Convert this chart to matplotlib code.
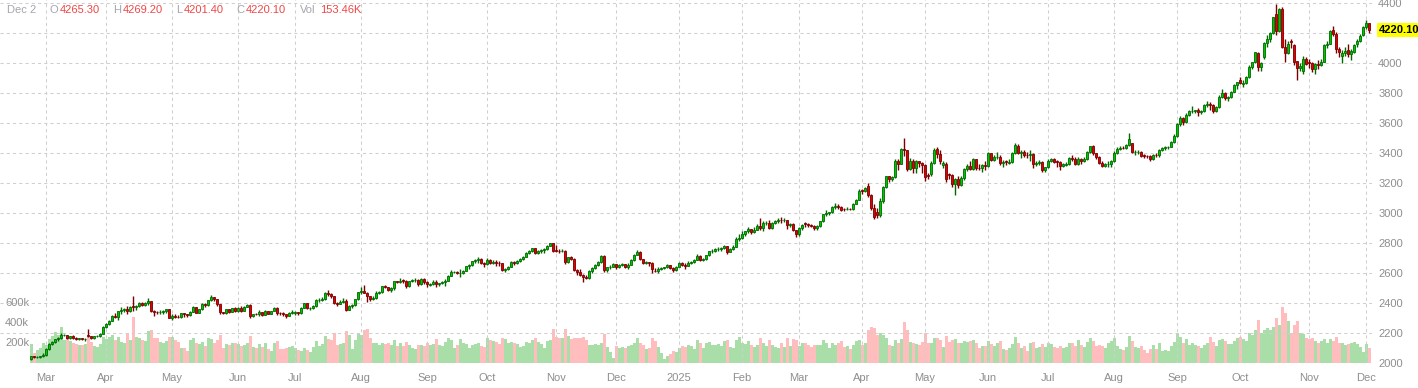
import numpy as np
import pandas as pd
import matplotlib
matplotlib.use("Agg")
import matplotlib.pyplot as plt
from matplotlib import transforms

# ---------------- data (gold futures, daily) ----------------
HOLIDAYS = ['2024-03-29', '2024-05-27', '2024-06-19', '2024-07-04', '2024-09-02',
            '2024-11-28', '2024-12-25', '2025-01-01', '2025-01-20', '2025-02-17',
            '2025-04-18', '2025-05-26', '2025-06-19', '2025-07-04', '2025-09-01',
            '2025-11-27']
START, END = '2024-02-23', '2025-12-02'

open_2024 = [
    2025, 2046, 2039, 2043, 2044,
    2054, 2096, 2126, 2141, 2158, 2165, 2186, 2189, 2166, 2180, 2167, 2162, 2164, 2160, 2190, 2182, 2165, 2177, 2180, 2195,
    2238, 2258, 2281, 2315, 2308, 2345, 2351, 2362, 2348, 2378, 2374, 2383, 2402, 2388, 2398, 2413, 2346, 2342, 2338, 2342, 2347, 2357,
    2302, 2311, 2309, 2308, 2331, 2324, 2322, 2340, 2375, 2336, 2358, 2393, 2385, 2417, 2438, 2425, 2393, 2337, 2334, 2357, 2338, 2364,
    2347, 2369, 2348, 2375, 2390, 2311, 2327, 2325, 2339, 2318, 2349, 2330, 2346, 2369, 2333, 2331, 2330, 2313, 2336,
    2335, 2339, 2331, 2369, 2397, 2365, 2370, 2379, 2417, 2421, 2429, 2468, 2459, 2446, 2399, 2396, 2409, 2416, 2353, 2380, 2385, 2427,
    2473, 2480, 2470, 2444, 2429, 2432, 2470, 2471, 2511, 2505, 2490, 2497, 2544, 2543, 2552, 2549, 2511, 2546, 2552, 2554, 2526, 2560,
    2537, 2520, 2526, 2543, 2524, 2531, 2543, 2547, 2580, 2605, 2610, 2597, 2598, 2614, 2646, 2652, 2678, 2687, 2694, 2668,
    2660, 2690, 2669, 2673, 2667, 2666, 2622, 2625, 2642, 2676, 2665, 2680, 2692, 2707, 2736, 2745, 2764, 2734, 2749, 2756, 2757, 2782, 2800,
    2755, 2749, 2746, 2750, 2676, 2706, 2694, 2622, 2607, 2586, 2573, 2570, 2615, 2634, 2652, 2674, 2712, 2617, 2637, 2642,
    2657, 2643, 2655, 2659, 2639, 2656, 2686, 2718, 2742, 2691, 2666, 2671, 2665, 2615, 2612, 2628, 2636, 2637, 2651, 2634, 2617,
]
high_2024 = [
    2050, 2049, 2049, 2047, 2064,
    2100, 2132, 2150, 2161, 2173, 2203, 2195, 2190, 2183, 2186, 2172, 2169, 2167, 2164, 2225, 2183, 2180, 2189, 2199, 2244,
    2266, 2290, 2320, 2333, 2350, 2372, 2366, 2380, 2380, 2448, 2390, 2405, 2408, 2405, 2431, 2415, 2352, 2348, 2355, 2355, 2360, 2360,
    2325, 2325, 2322, 2335, 2335, 2330, 2347, 2381, 2376, 2362, 2397, 2400, 2422, 2454, 2440, 2430, 2395, 2342, 2362, 2363, 2367, 2371,
    2374, 2377, 2381, 2393, 2391, 2330, 2335, 2354, 2340, 2353, 2350, 2348, 2375, 2373, 2338, 2343, 2330, 2340, 2352,
    2345, 2340, 2372, 2402, 2398, 2375, 2385, 2424, 2433, 2440, 2471, 2488, 2470, 2448, 2405, 2418, 2432, 2425, 2386, 2393, 2430, 2475,
    2505, 2522, 2475, 2450, 2450, 2478, 2480, 2515, 2520, 2510, 2504, 2550, 2550, 2570, 2560, 2552, 2550, 2560, 2565, 2558, 2570, 2564,
    2545, 2535, 2552, 2555, 2535, 2550, 2558, 2584, 2617, 2614, 2616, 2625, 2620, 2650, 2660, 2680, 2694, 2708, 2700, 2675,
    2700, 2694, 2685, 2690, 2680, 2667, 2636, 2650, 2681, 2683, 2690, 2698, 2712, 2742, 2755, 2769, 2770, 2755, 2760, 2765, 2789, 2801, 2802,
    2790, 2758, 2760, 2755, 2710, 2712, 2700, 2628, 2630, 2593, 2586, 2619, 2640, 2660, 2680, 2720, 2721, 2642, 2651, 2665,
    2660, 2660, 2668, 2662, 2665, 2692, 2725, 2755, 2745, 2695, 2680, 2675, 2672, 2632, 2640, 2640, 2640, 2660, 2652, 2640, 2645,
]
low_2024 = [
    2023, 2036, 2035, 2034, 2041,
    2050, 2088, 2117, 2131, 2146, 2159, 2178, 2158, 2160, 2160, 2156, 2155, 2154, 2150, 2175, 2160, 2162, 2172, 2175, 2192,
    2235, 2255, 2279, 2300, 2290, 2328, 2340, 2325, 2340, 2345, 2355, 2375, 2380, 2380, 2387, 2340, 2316, 2326, 2330, 2330, 2335, 2297,
    2285, 2300, 2300, 2302, 2310, 2307, 2315, 2338, 2333, 2332, 2355, 2375, 2382, 2415, 2413, 2380, 2325, 2325, 2330, 2334, 2337, 2341,
    2342, 2338, 2346, 2372, 2301, 2310, 2318, 2315, 2314, 2317, 2325, 2325, 2345, 2320, 2318, 2316, 2303, 2312, 2325,
    2323, 2320, 2328, 2366, 2357, 2355, 2360, 2375, 2405, 2411, 2422, 2449, 2433, 2393, 2383, 2391, 2400, 2349, 2353, 2370, 2380, 2420,
    2460, 2464, 2405, 2415, 2420, 2425, 2460, 2468, 2500, 2480, 2475, 2490, 2532, 2535, 2535, 2502, 2510, 2540, 2540, 2515, 2520, 2528,
    2510, 2512, 2522, 2510, 2512, 2525, 2515, 2545, 2578, 2597, 2595, 2574, 2595, 2612, 2630, 2648, 2670, 2670, 2660, 2640,
    2655, 2657, 2660, 2650, 2645, 2613, 2610, 2620, 2640, 2651, 2658, 2675, 2685, 2705, 2728, 2738, 2727, 2725, 2735, 2735, 2752, 2778, 2743,
    2742, 2735, 2738, 2660, 2670, 2684, 2615, 2590, 2580, 2540, 2560, 2562, 2603, 2625, 2645, 2670, 2605, 2610, 2628, 2638,
    2630, 2635, 2648, 2633, 2630, 2652, 2680, 2718, 2688, 2660, 2657, 2648, 2598, 2608, 2600, 2618, 2630, 2633, 2630, 2610, 2613,
]
close_2024 = [
    2046, 2039, 2043, 2044, 2054,
    2096, 2126, 2141, 2158, 2165, 2186, 2189, 2166, 2180, 2167, 2162, 2164, 2160, 2160, 2182, 2165, 2177, 2180, 2195, 2238,
    2257, 2281, 2315, 2308, 2345, 2351, 2362, 2348, 2372, 2374, 2383, 2402, 2388, 2398, 2413, 2346, 2342, 2338, 2342, 2347, 2357, 2302,
    2311, 2309, 2308, 2331, 2324, 2322, 2340, 2375, 2336, 2358, 2393, 2385, 2417, 2438, 2425, 2393, 2337, 2334, 2357, 2338, 2364, 2347,
    2369, 2348, 2375, 2390, 2311, 2327, 2325, 2339, 2318, 2349, 2330, 2346, 2369, 2333, 2331, 2330, 2313, 2336, 2339,
    2339, 2331, 2369, 2397, 2365, 2370, 2379, 2417, 2421, 2429, 2468, 2459, 2446, 2399, 2396, 2409, 2416, 2353, 2380, 2385, 2427, 2473,
    2480, 2470, 2444, 2429, 2432, 2470, 2471, 2511, 2505, 2490, 2497, 2544, 2543, 2549, 2549, 2511, 2546, 2552, 2554, 2526, 2560, 2537,
    2526, 2526, 2543, 2524, 2531, 2543, 2547, 2580, 2610, 2610, 2597, 2598, 2614, 2646, 2652, 2678, 2687, 2694, 2668, 2660,
    2690, 2669, 2673, 2667, 2666, 2622, 2625, 2642, 2676, 2665, 2680, 2692, 2707, 2736, 2745, 2764, 2734, 2749, 2756, 2757, 2782, 2800, 2749,
    2749, 2746, 2750, 2676, 2706, 2694, 2622, 2607, 2586, 2573, 2570, 2615, 2634, 2652, 2674, 2712, 2617, 2637, 2642, 2657,
    2643, 2655, 2659, 2639, 2656, 2686, 2718, 2742, 2691, 2666, 2671, 2665, 2630, 2612, 2628, 2636, 2637, 2651, 2634, 2617, 2641,
]
vol_2024 = [  # thousands of contracts
    190, 100, 130, 150, 200,
    180, 240, 270, 310, 280, 360, 230, 270, 220, 200, 190, 180, 180, 190, 260, 210, 170, 160, 190, 260,
    240, 260, 280, 230, 260, 210, 200, 300, 230, 460, 260, 250, 230, 220, 320, 330, 250, 250, 210, 200, 220, 260,
    260, 230, 210, 150, 150, 120, 230, 250, 200, 190, 210, 170, 250, 240, 200, 230, 280, 150, 190, 180, 200, 200,
    190, 170, 180, 200, 270, 160, 150, 190, 160, 200, 140, 120, 200, 220, 140, 140, 150, 160, 170,
    150, 130, 120, 150, 130, 110, 160, 220, 170, 190, 270, 240, 230, 300, 180, 190, 200, 320, 280, 140, 230, 300,
    280, 330, 340, 250, 200, 200, 180, 200, 190, 200, 180, 230, 170, 200, 170, 210, 180, 150, 140, 180, 180, 170,
    200, 180, 190, 240, 180, 170, 210, 250, 230, 150, 180, 240, 200, 190, 150, 180, 190, 200, 170, 160,
    250, 230, 220, 210, 190, 250, 240, 200, 210, 200, 190, 160, 170, 210, 200, 230, 250, 210, 190, 150, 220, 230, 340,
    260, 250, 250, 340, 270, 240, 250, 250, 250, 260, 230, 180, 180, 190, 180, 200, 290, 160, 110, 50,
    170, 150, 160, 150, 170, 180, 200, 250, 200, 180, 140, 150, 250, 220, 160, 100, 40, 70, 90, 120, 110,
]

open_2025 = [
    2641, 2669, 2653, 2646, 2665, 2672, 2690, 2716, 2688, 2691, 2717, 2744, 2748, 2759, 2763, 2768, 2777, 2740, 2763, 2776, 2830,
    2835, 2857, 2877, 2893, 2872, 2887, 2913, 2903, 2933, 2936, 2900, 2936, 2948, 2954, 2953, 2956, 2917, 2930, 2884,
    2857, 2899, 2932, 2925, 2922, 2915, 2899, 2916, 2946, 2992, 3001, 3004, 3040, 3047, 3043, 3030, 3024, 3030, 3027, 3060, 3090,
    3150, 3149, 3180, 3121, 3035, 3010, 2989, 3080, 3175, 3245, 3226, 3241, 3346, 3328, 3425, 3419, 3294, 3348, 3298, 3347, 3333,
    3319, 3255, 3260, 3334, 3430, 3392, 3320, 3330, 3262, 3252, 3193, 3226, 3187, 3233, 3295, 3316, 3294, 3357, 3300, 3299, 3323,
    3315, 3397, 3353, 3374, 3376, 3331, 3350, 3335, 3343, 3402, 3450, 3403, 3407, 3386, 3385, 3394, 3325, 3332, 3343, 3287,
    3307, 3349, 3357, 3350, 3342, 3316, 3320, 3325, 3365, 3361, 3324, 3359, 3346, 3359, 3407, 3444, 3397, 3373, 3336, 3314, 3327, 3328,
    3348, 3399, 3427, 3435, 3434, 3453, 3465, 3404, 3406, 3409, 3383, 3382, 3378, 3358, 3389, 3385, 3418, 3433, 3438, 3443, 3475,
    3516, 3592, 3635, 3608, 3653, 3677, 3682, 3684, 3674, 3680, 3720, 3725, 3717, 3678, 3705, 3775, 3800, 3768, 3772, 3809, 3855,
    3885, 3860, 3870, 3908, 3976, 4004, 4070, 3972, 4040, 4133, 4163, 4200, 4330, 4213, 4359, 4109, 4065, 4145, 4120, 4010, 3964, 3950, 4024,
    4010, 4000, 3960, 3992, 3989, 4009, 4122, 4130, 4220, 4195, 4094, 4050, 4066, 4085, 4063, 4076, 4125, 4150, 4185,
    4240, 4265.3,
]
high_2025 = [
    2675, 2673, 2665, 2680, 2680, 2695, 2725, 2718, 2700, 2720, 2750, 2760, 2765, 2775, 2772, 2790, 2780, 2770, 2785, 2840, 2862,
    2880, 2882, 2905, 2893, 2910, 2925, 2968, 2945, 2950, 2955, 2940, 2955, 2965, 2975, 2964, 2956, 2935, 2935, 2890,
    2905, 2930, 2940, 2935, 2930, 2920, 2922, 2950, 2995, 3017, 3010, 3045, 3065, 3060, 3050, 3035, 3040, 3035, 3065, 3095, 3160,
    3160, 3175, 3200, 3130, 3060, 3035, 3100, 3180, 3250, 3250, 3250, 3357, 3360, 3435, 3500, 3420, 3370, 3360, 3355, 3350, 3340,
    3325, 3265, 3345, 3435, 3440, 3420, 3350, 3340, 3270, 3260, 3235, 3250, 3245, 3300, 3330, 3345, 3365, 3360, 3325, 3330, 3350,
    3405, 3400, 3385, 3405, 3385, 3355, 3355, 3360, 3410, 3470, 3460, 3420, 3420, 3405, 3420, 3400, 3345, 3355, 3350, 3310,
    3360, 3365, 3365, 3355, 3345, 3335, 3340, 3375, 3390, 3375, 3375, 3370, 3375, 3415, 3450, 3455, 3400, 3380, 3345, 3335, 3345, 3355,
    3415, 3440, 3450, 3450, 3460, 3534, 3470, 3420, 3420, 3415, 3392, 3390, 3385, 3395, 3400, 3425, 3440, 3450, 3450, 3480, 3530,
    3600, 3650, 3640, 3665, 3690, 3715, 3690, 3700, 3690, 3725, 3745, 3740, 3725, 3712, 3785, 3824, 3808, 3780, 3815, 3860, 3875,
    3905, 3885, 3915, 3985, 4010, 4075, 4075, 4010, 4140, 4190, 4210, 4310, 4392, 4370, 4375, 4160, 4150, 4160, 4130, 4015, 4000, 4050, 4040,
    4030, 4010, 4000, 4020, 4030, 4130, 4150, 4220, 4245, 4210, 4110, 4090, 4110, 4130, 4095, 4125, 4160, 4195, 4250,
    4290, 4269.2,
]
low_2025 = [
    2638, 2650, 2630, 2645, 2658, 2665, 2688, 2677, 2682, 2685, 2715, 2735, 2740, 2748, 2748, 2760, 2730, 2738, 2755, 2772, 2815,
    2830, 2850, 2865, 2860, 2865, 2886, 2888, 2880, 2920, 2895, 2895, 2925, 2935, 2935, 2943, 2895, 2905, 2880, 2840,
    2850, 2890, 2910, 2910, 2905, 2890, 2885, 2905, 2940, 2980, 2990, 3000, 3030, 3030, 3015, 3015, 3018, 3020, 3020, 3058, 3088,
    3130, 3140, 3110, 3020, 2960, 2970, 2975, 3070, 3170, 3210, 3215, 3235, 3290, 3330, 3380, 3280, 3290, 3265, 3270, 3305, 3270,
    3215, 3225, 3250, 3325, 3365, 3330, 3300, 3210, 3225, 3175, 3121, 3170, 3180, 3220, 3280, 3285, 3290, 3290, 3290, 3275, 3290,
    3310, 3345, 3345, 3360, 3320, 3305, 3320, 3325, 3335, 3395, 3395, 3370, 3375, 3370, 3345, 3300, 3315, 3320, 3275, 3275,
    3300, 3340, 3335, 3310, 3290, 3310, 3315, 3320, 3350, 3320, 3320, 3330, 3340, 3355, 3400, 3390, 3360, 3330, 3308, 3305, 3310, 3310,
    3340, 3395, 3420, 3425, 3425, 3450, 3400, 3390, 3395, 3375, 3370, 3370, 3345, 3355, 3375, 3375, 3415, 3420, 3430, 3440, 3470,
    3510, 3580, 3590, 3600, 3645, 3665, 3665, 3650, 3660, 3675, 3710, 3690, 3670, 3675, 3700, 3765, 3755, 3745, 3765, 3805, 3825,
    3860, 3840, 3860, 3900, 3960, 4000, 3945, 3950, 4030, 4110, 4140, 4195, 4185, 4210, 4100, 4010, 4060, 4100, 3985, 3886, 3950, 3930, 3985,
    3970, 3940, 3930, 3960, 3980, 4005, 4100, 4125, 4180, 4070, 4040, 4000, 4050, 4040, 4020, 4070, 4110, 4140, 4180,
    4228, 4201.4,
]
close_2025 = [
    2669, 2653, 2646, 2665, 2672, 2690, 2716, 2688, 2691, 2717, 2744, 2748, 2759, 2763, 2768, 2777, 2740, 2763, 2776, 2830, 2835,
    2857, 2877, 2893, 2872, 2887, 2913, 2903, 2933, 2936, 2900, 2936, 2948, 2954, 2953, 2956, 2917, 2930, 2884, 2857,
    2899, 2923, 2925, 2922, 2915, 2899, 2916, 2946, 2992, 3001, 3004, 3040, 3047, 3043, 3022, 3024, 3030, 3027, 3060, 3090, 3150,
    3149, 3166, 3121, 3035, 2973, 2989, 3080, 3175, 3245, 3226, 3241, 3346, 3328, 3425, 3419, 3294, 3348, 3298, 3347, 3333, 3319,
    3239, 3247, 3334, 3421, 3392, 3345, 3336, 3229, 3252, 3193, 3226, 3187, 3233, 3295, 3316, 3294, 3357, 3300, 3299, 3323, 3315,
    3397, 3353, 3374, 3376, 3331, 3343, 3343, 3343, 3402, 3452, 3403, 3407, 3386, 3385, 3394, 3325, 3332, 3343, 3287, 3307,
    3349, 3357, 3342, 3342, 3316, 3324, 3325, 3365, 3361, 3324, 3359, 3346, 3359, 3407, 3444, 3397, 3373, 3336, 3314, 3327, 3328, 3348,
    3399, 3427, 3435, 3434, 3453, 3491, 3404, 3406, 3409, 3383, 3382, 3378, 3358, 3389, 3385, 3418, 3433, 3438, 3443, 3475, 3516,
    3592, 3635, 3608, 3653, 3677, 3682, 3684, 3674, 3680, 3720, 3725, 3717, 3678, 3705, 3775, 3800, 3768, 3772, 3809, 3855, 3873,
    3868, 3870, 3908, 3976, 4004, 4070, 3972, 4000, 4133, 4163, 4200, 4304, 4213, 4359, 4109, 4065, 4125, 4137, 4010, 3964, 3983, 4024, 3996,
    4000, 3960, 3992, 3989, 4009, 4122, 4130, 4213, 4195, 4094, 4073, 4066, 4080, 4063, 4079, 4118, 4150, 4180, 4240,
    4268, 4220.1,
]
vol_2025 = [
    150, 170, 160, 180, 170, 140, 230, 200, 150, 200, 210, 180, 180, 190, 170, 220, 230, 160, 150, 230, 260,
    200, 190, 220, 180, 160, 180, 250, 200, 170, 230, 180, 160, 150, 200, 160, 250, 170, 240, 230,
    170, 200, 200, 180, 160, 180, 180, 180, 230, 200, 150, 200, 180, 200, 220, 160, 170, 140, 180, 220, 230,
    180, 200, 330, 360, 350, 280, 300, 280, 250, 180, 170, 230, 200, 240, 410, 330, 210, 200, 190, 180, 210,
    300, 200, 200, 250, 250, 230, 160, 270, 210, 230, 240, 200, 200, 220, 210, 220, 230, 200, 150, 170, 170,
    220, 190, 170, 200, 220, 140, 130, 150, 190, 260, 200, 150, 170, 120, 200, 210, 150, 160, 190, 160,
    200, 190, 160, 150, 170, 150, 160, 200, 200, 170, 230, 180, 160, 210, 250, 220, 170, 180, 170, 150, 200, 220,
    250, 170, 140, 130, 160, 270, 220, 160, 150, 170, 130, 100, 140, 180, 140, 200, 120, 130, 120, 170, 210,
    300, 260, 200, 240, 180, 200, 180, 170, 150, 180, 200, 260, 210, 170, 230, 240, 220, 190, 190, 220, 250,
    260, 240, 220, 300, 280, 330, 430, 300, 330, 350, 330, 360, 450, 380, 560, 500, 420, 300, 380, 420, 300, 290, 250,
    240, 250, 220, 200, 220, 240, 200, 240, 220, 260, 200, 200, 180, 190, 200, 210, 190, 160, 110,
    190, 153.46,
]

PRICE_TICKS = list(range(2000, 4401, 200))
VOL_LABELS = [200, 400, 600]

# ---------------- assemble ----------------
O = np.array(open_2024 + open_2025, float)
Hh = np.array(high_2024 + high_2025, float)
L = np.array(low_2024 + low_2025, float)
C = np.array(close_2024 + close_2025, float)
V = np.array(vol_2024 + vol_2025, float)

dates = pd.bdate_range(START, END, freq='C', holidays=HOLIDAYS)
n = len(dates)
for name, arr in [('O', O), ('H', Hh), ('L', L), ('C', C), ('V', V)]:
    if len(arr) != n:
        raise SystemExit(f"length mismatch {name}: {len(arr)} vs {n}")
x = np.arange(n)

# ---------------- figure ----------------
W, HPX = 1418, 388
PLOT_R, PLOT_B = 1372, 363
fig = plt.figure(figsize=(W / 100, HPX / 100), dpi=100)
fig.patch.set_facecolor('white')
rect = [0, (HPX - PLOT_B) / HPX, PLOT_R / W, PLOT_B / HPX]
axv = fig.add_axes(rect)
ax = fig.add_axes(rect, sharex=axv)
ax.patch.set_alpha(0)

FONT = 'Liberation Sans'
GRAY = '#8e8e8e'
mar1 = int(np.where(dates == pd.Timestamp('2024-03-01'))[0][0])
px_day = 3.0
x0 = mar1 - 46 / px_day
ax.set_xlim(x0, x0 + PLOT_R / px_day)
ax.set_ylim(2000, 2000 + PLOT_B / 0.15)
axv.set_ylim(0, PLOT_B * 10)

up = C >= O

# volume
axv.bar(x, V, width=1.0, color=np.where(up, '#a9dea9', '#ffbdbd'), linewidth=0)
for a in (ax, axv):
    for s in a.spines.values():
        s.set_visible(False)
axv.set_yticks([])
axv.tick_params(axis='x', length=0, labelbottom=False)
tv = transforms.blended_transform_factory(axv.transAxes, axv.transData)
for v in VOL_LABELS:
    axv.text(5 / PLOT_R, v, f'{v}k', transform=tv, ha='left', va='center',
             color=GRAY, fontsize=8, family=FONT)

# grid
month_idx, month_lab = [], []
for i in range(1, n):
    if dates[i].month != dates[i - 1].month:
        month_idx.append(i)
        month_lab.append('2025' if (dates[i].month == 1) else dates[i].strftime('%b'))
ax.set_xticks(month_idx)
ax.set_xticklabels(month_lab, fontsize=8, color=GRAY, family=FONT)
ax.set_yticks(PRICE_TICKS)
# the 4200 label sits under the last-price tag, as in the original
ax.set_yticklabels(['' if p == 4200 else str(p) for p in PRICE_TICKS],
                   fontsize=8, color=GRAY, family=FONT)
ax.yaxis.tick_right()
ax.tick_params(axis='y', length=0, pad=4.5)
ax.tick_params(axis='x', length=0, pad=7)
for i in month_idx:
    ax.axvline(i, color='#cfcfcf', lw=0.75, ls=(0, (3, 3)), zorder=1)
for p in PRICE_TICKS[1:]:
    ax.axhline(p, color='#cfcfcf', lw=0.75, ls=(0, (3, 3)), zorder=1)

# candles
edge = np.where(up, '#006a00', '#7a0000')
fill = np.where(up, '#00c400', '#e00000')
ax.vlines(x, L, Hh, colors=edge, linewidth=1.0, zorder=3)
body_lo = np.minimum(O, C)
body_h = np.maximum(np.abs(C - O), 1.5)
ax.bar(x, body_h, bottom=body_lo, width=0.7, color=fill, edgecolor=edge,
       linewidth=0.6, zorder=4)

# last price tag
tp = transforms.blended_transform_factory(fig.transFigure, ax.transData)
ax.text(1379 / W, C[-1], f'{C[-1]:.2f}', transform=tp, ha='left', va='center',
        fontsize=8, fontweight='bold', color='black', family=FONT,
        bbox=dict(boxstyle='square,pad=0.22', fc='#ffff00', ec='none'), clip_on=False)

# OHLC header
last = dates[-1]
items = [(f"{last.strftime('%b')} {last.day}", 7, '#a2a6ae'),
         ('O', 50, '#a2a6ae'), (f'{O[-1]:.2f}', 60, '#ef4646'),
         ('H', 113, '#a2a6ae'), (f'{Hh[-1]:.2f}', 123, '#ef4646'),
         ('L', 176, '#a2a6ae'), (f'{L[-1]:.2f}', 184, '#ef4646'),
         ('C', 236, '#a2a6ae'), (f'{C[-1]:.2f}', 246, '#ef4646'),
         ('Vol', 300, '#a2a6ae'), (f'{V[-1]:.2f}K', 320, '#ef4646')]
for txt, px, col in items:
    fig.text(px / W, 1 - 10 / HPX, txt, ha='left', va='center', color=col,
             fontsize=8, family=FONT)

fig.savefig('out.png', dpi=100, facecolor='white')
